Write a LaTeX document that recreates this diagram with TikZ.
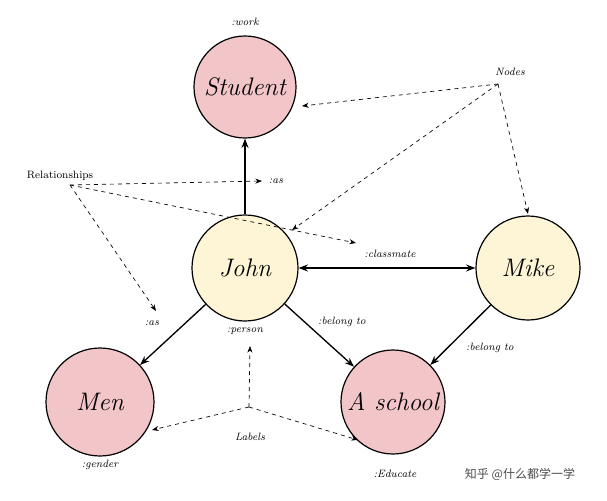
\documentclass[tikz,border=0pt]{standalone}
\usepackage{fontspec}
\newfontfamily\cjk{Noto Sans CJK SC}
\usetikzlibrary{arrows.meta}
\definecolor{pinkf}{HTML}{F2C5C8}
\definecolor{creamf}{HTML}{FDF5D5}
\begin{document}
\begin{tikzpicture}[x=0.75pt,y=-0.75pt,
  ent/.style={circle,draw,line width=0.9pt,minimum size=#1*0.75pt,inner sep=0pt,font=\fontsize{19}{22}\selectfont\itshape},
  lab/.style={font=\footnotesize\itshape},
  rel/.style={-{Stealth[length=7pt]},line width=1pt},
  note/.style={dashed,-{Stealth[length=5pt]},line width=0.5pt}]
\useasboundingbox (0,0) rectangle (607,500);
\node[ent=102,fill=pinkf] (stu) at (245,87) {Student};
\node[ent=106,fill=creamf] (john) at (245,268) {John};
\node[ent=104,fill=creamf] (mike) at (528,268) {Mike};
\node[ent=108,fill=pinkf] (men) at (100,402) {Men};
\node[ent=104,fill=pinkf] (sch) at (393,402) {A school};
\draw[rel] (john) -- (stu);
\draw[rel,{Stealth[length=7pt]}-{Stealth[length=7pt]}] (john) -- (mike);
\draw[rel] (john) -- (men);
\draw[rel] (john) -- (sch);
\draw[rel] (mike) -- (sch);
\node[lab] (lwork) at (245,22) {:work};
\node[lab] (las1) at (276,181) {:as};
\node[lab] (lcls) at (390,254) {:classmate};
\node[lab] (las2) at (152,323) {:as};
\node[lab] (lper) at (245,331) {:person};
\node[lab] (lb1) at (342,322) {:belong to};
\node[lab] (lb2) at (490,348) {:belong to};
\node[lab] (lgen) at (100,465) {:gender};
\node[lab] (ledu) at (395,474) {:Educate};
\node[lab] (nodes) at (510,72) {Nodes};
\node[font=\footnotesize] (rels) at (60,176) {Relationships};
\node[lab] (labels) at (250,437) {Labels};
\node[font=\cjk\small,text=black!70] (wm) at (520,474) {知乎 @什么都学一学};
\coordinate (n0) at (498,84);
\coordinate (r0) at (70,185);
\coordinate (l0) at (249,407);
\draw[note] (n0) -- (302,106);
\draw[note] (n0) -- (292,230);
\draw[note] (n0) -- (528,214);
\draw[note] (r0) -- (262,181);
\draw[note] (r0) -- (356,243);
\draw[note] (r0) -- (156,311);
\draw[note] (l0) -- (152,430);
\draw[note] (l0) -- (358,440);
\draw[note] (l0) -- (250,346);
\end{tikzpicture}
\end{document}
